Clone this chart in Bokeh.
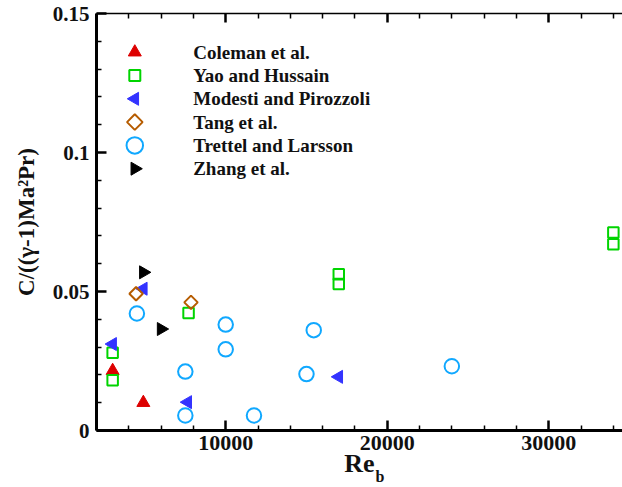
import math
from bokeh.plotting import figure
from bokeh.models import (Range1d, FixedTicker, LinearAxis, CustomJSTickFormatter, Label,
                          CustomLabelingPolicy)
from bokeh.core.properties import value
from bokeh.embed import file_html
from bokeh.resources import INLINE

# ---------------- data ----------------
series_names = ["Coleman et al.", "Yao and Hussain", "Modesti and Pirozzoli",
                "Tang et al.", "Trettel and Larsson", "Zhang et al."]

coleman_re = [3000, 4900]
coleman_c = [0.0215, 0.0100]

yao_re = [3000, 3000, 7700, 17000, 17000, 34000, 34000]
yao_c = [0.0280, 0.0181, 0.0423, 0.0562, 0.0527, 0.0712, 0.0670]

modesti_re = [3000, 4900, 7650, 17000]
modesti_c = [0.0311, 0.0510, 0.0102, 0.0193]

tang_re = [4450, 7850]
tang_c = [0.0492, 0.0461]

trettel_re = [4500, 7500, 7500, 10000, 10000, 11750, 15000, 15450, 24000]
trettel_c = [0.0421, 0.0212, 0.0054, 0.0381, 0.0292, 0.0054, 0.0203, 0.0361, 0.0231]

zhang_re = [4900, 6000]
zhang_c = [0.0569, 0.0365]

x_major_ticks = [10000, 20000, 30000]
x_minor_ticks = [2000, 4000, 6000, 8000, 12000, 14000, 16000, 18000, 22000, 24000,
                 26000, 28000, 32000, 34000]
y_major_ticks = [0, 0.05, 0.1, 0.15]
y_minor_ticks = [0.01, 0.02, 0.03, 0.04, 0.06, 0.07, 0.08, 0.09, 0.11, 0.12, 0.13, 0.14]

x_label_main = "Re"
x_label_sub = "b"
y_label = "C/((\u03b3-1)Ma\u00b2Pr)"

# ---------------- styles ----------------
FONT = "Liberation Serif"
RED = "#dd0000"
GREEN = "#00d400"
BLUE = "#3333ff"
BROWN = "#b65c00"
CYAN = "#10a8ff"
BLACK = "#000000"

styles = [
    dict(marker="triangle", size=13, angle=0.0, fill_color=RED, line_color=RED, line_width=1),
    dict(marker="square", size=10.5, angle=0.0, fill_color=None, line_color=GREEN, line_width=2),
    dict(marker="triangle", size=13, angle=math.pi / 2, fill_color=BLUE, line_color=BLUE, line_width=1),
    dict(marker="square", size=9.5, angle=math.pi / 4, fill_color=None, line_color=BROWN, line_width=2),
    dict(marker="circle", size=14.5, angle=0.0, fill_color=None, line_color=CYAN, line_width=2),
    dict(marker="triangle", size=13, angle=-math.pi / 2, fill_color=BLACK, line_color=BLACK, line_width=1),
]
legend_sizes = [13, 11, 13, 11, 16.5, 13]
data = [(coleman_re, coleman_c), (yao_re, yao_c), (modesti_re, modesti_c),
        (tang_re, tang_c), (trettel_re, trettel_c), (zhang_re, zhang_c)]

W, H = 622, 487
BL, BR, BT, BB = 96, 0, 13, 57
FW, FH = W - BL - BR, H - BT - BB
X0, X1 = 2000, 34566
Y0, Y1 = 0.0, 0.15

p = figure(width=W, height=H, x_range=Range1d(X0, X1), y_range=Range1d(Y0, Y1),
           output_backend="svg", toolbar_location=None,
           min_border_left=BL, min_border_right=BR, min_border_top=BT, min_border_bottom=BB)
p.grid.visible = False
p.outline_line_color = None
p.background_fill_color = "white"
p.border_fill_color = "white"

# pixel-like helper ranges for the legend layout (canvas-pixel based)
p.extra_x_ranges = {"lx": Range1d(BL, W - BR)}
p.extra_y_ranges = {"ly": Range1d(H - BB, BT)}

xa = p.xaxis[0]
xa.ticker = FixedTicker(ticks=x_major_ticks, minor_ticks=x_minor_ticks)
xa.formatter = CustomJSTickFormatter(code="return String(tick);")
ya = p.yaxis[0]
ya.ticker = FixedTicker(ticks=y_major_ticks, minor_ticks=y_minor_ticks)
ya.formatter = CustomJSTickFormatter(code="return String(tick);")

for ax in (xa, ya):
    ax.axis_line_width = 3
    ax.axis_line_color = "black"
    ax.major_tick_in = 10
    ax.major_tick_out = 0
    ax.minor_tick_in = 5
    ax.minor_tick_out = 0
    ax.major_tick_line_width = 2.5
    ax.minor_tick_line_width = 1.5
    ax.major_label_text_font = FONT
    ax.major_label_text_font_style = "bold"
    ax.major_label_text_font_size = "22px"
    ax.major_label_text_color = "#111111"
    ax.axis_label_text_font = FONT
    ax.axis_label_text_font_style = "bold"
    ax.axis_label_text_color = "#111111"

ya.major_label_text_font_size = "21px"

xa.major_label_standoff = 5
xa.axis_label = x_label_main
xa.axis_label_text_font_size = "26px"
xa.axis_label_standoff = -4

ya.major_label_standoff = 7
ya.axis_label = y_label
ya.axis_label_text_font_size = "23px"
ya.axis_label_standoff = 11

top = LinearAxis(ticker=FixedTicker(ticks=x_major_ticks, minor_ticks=x_minor_ticks),
                 major_label_text_font_size="0px", major_label_standoff=0,
                 major_label_policy=CustomLabelingPolicy(
                     code="for (const i of indices) indices.unset(i); return indices;"))
top.axis_line_width = 1.5
top.major_tick_in = 9
top.major_tick_out = 0
top.minor_tick_in = 5
top.minor_tick_out = 0
top.major_tick_line_width = 2.5
top.minor_tick_line_width = 1.5
p.add_layout(top, "above")

# subscript "b" of Re_b (placed in a side panel so it is not clipped)
sub_x = X0 + (375 - BL) * (X1 - X0) / FW
sub_y = Y0 - (476 - (H - BB)) * (Y1 - Y0) / FH
lbl_b = Label(x=sub_x, y=sub_y, x_units="data", y_units="data", text=x_label_sub,
              text_font=FONT, text_font_style="bold", text_font_size="16px",
              text_baseline="alphabetic", text_align="left", text_color="#111111")
p.add_layout(lbl_b, "left")

# data
for (xs, ys), st in zip(data, styles):
    p.scatter(x=xs, y=ys, **st)

# legend (manual, positioned in canvas pixels)
leg_x = 134.3
leg_y0 = 51.7
leg_dy = 23.3
leg_tx = 192.7
for i, (name, st, ls) in enumerate(zip(series_names, styles, legend_sizes)):
    yy = leg_y0 + i * leg_dy
    lst = dict(st)
    lst["size"] = ls
    p.scatter(x=[leg_x], y=[yy], x_range_name="lx", y_range_name="ly", **lst)
    p.text(x=[leg_tx], y=[yy], text=[name], x_range_name="lx", y_range_name="ly",
           text_font=value(FONT), text_font_style="bold", text_font_size="19px",
           text_baseline="middle", text_align="left", text_color="#111111")

open("out.html", "w").write(file_html(p, INLINE))
